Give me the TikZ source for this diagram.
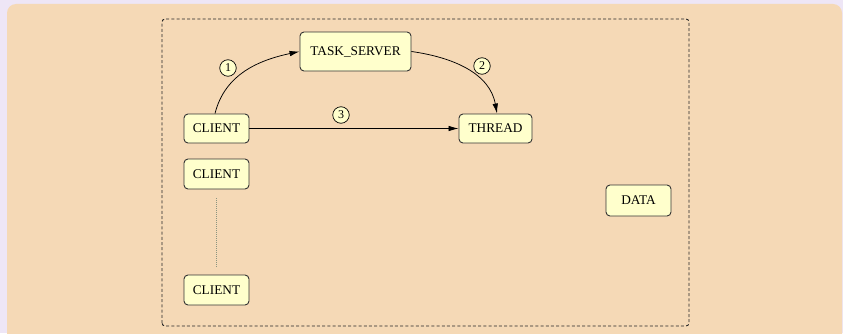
\documentclass[tikz,border=0pt]{standalone}
\usepackage{fontspec}
\setmainfont{Liberation Serif}
\usetikzlibrary{arrows.meta}
\definecolor{pagebg}{HTML}{EEE6F6}
\definecolor{panel}{HTML}{F5D9B6}
\definecolor{boxfill}{HTML}{FFFFCC}
\definecolor{boxline}{HTML}{333333}
\definecolor{linkdots}{HTML}{8A9480}
\begin{document}
\begin{tikzpicture}[x=1pt,y=1pt,
  entity/.style={draw=boxline, fill=boxfill, rounded corners=4pt, line width=0.9pt,
    inner sep=0pt, font=\fontsize{13.3}{15}\selectfont},
  tag/.style={draw=black, fill=boxfill, circle, minimum size=16.5pt, inner sep=0pt,
    line width=0.7pt, font=\fontsize{12}{13}\selectfont},
  flow/.style={draw=black, line width=0.75pt, -{Latex[length=10pt,width=5.5pt]}}]
  \useasboundingbox (0,0) rectangle (843,333);
  % page and panel
  \fill[pagebg] (0,0) rectangle (843,333);
  \fill[panel, rounded corners=9pt] (7,-12) rectangle (842,329);
  % dashed frame around the system
  \draw[black!85, line width=0.9pt, dash pattern=on 3pt off 2.2pt, rounded corners=3pt]
    (162,7) rectangle (689,314);

  % components
  \node[entity, minimum width=111pt, minimum height=39pt] (server) at (355.5,281.5) {TASK\_SERVER};
  \node[entity, minimum width=65pt, minimum height=29pt] (client) at (216.5,204.5) {CLIENT};
  \node[entity, minimum width=73pt, minimum height=29pt] (thread) at (495.5,204.5) {THREAD};
  \node[entity, minimum width=65pt, minimum height=30pt] (clientb) at (216.5,159) {CLIENT};
  \node[entity, minimum width=65pt, minimum height=31pt] (data) at (638.5,132.5) {DATA};
  \node[entity, minimum width=65pt, minimum height=30pt] (clientc) at (216.5,43) {CLIENT};

  % message flow
  \draw[flow] ([xshift=-1.5pt]client.north) to[out=76, in=192] (server.west);
  \draw[flow] (server.east) to[out=-8, in=100] ([xshift=1.5pt]thread.north);
  \draw[flow] (client.east) -- (thread.west);

  % step numbers
  \node[tag] (t1) at (228,265) {1};
  \node[tag] (t2) at (482,267) {2};
  \node[tag] (t3) at (341,218) {3};

  % further clients
  \draw[linkdots, line width=0.7pt, dash pattern=on 1pt off 1pt]
    ([yshift=-9pt]clientb.south) -- ([yshift=7pt]clientc.north);
\end{tikzpicture}
\end{document}
